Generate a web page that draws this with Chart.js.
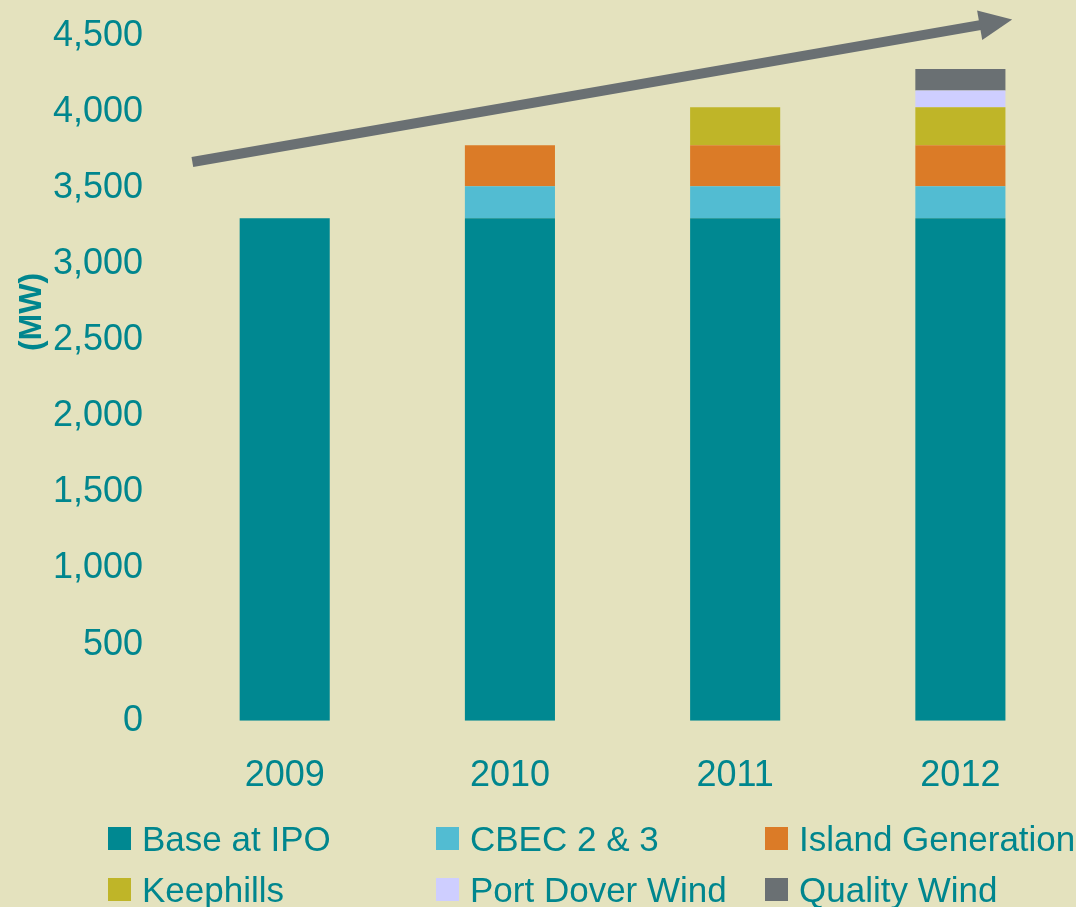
<!DOCTYPE html>
<html lang="en">
<head>
    <meta charset="UTF-8">
    <title>Capacity (MW) 2009-2012</title>
    <script src="https://cdn.jsdelivr.net/npm/chart.js"></script>
    <style>
        html, body {
            margin: 0;
            padding: 0;
            background: #E4E2BE;
            width: 1076px;
            height: 907px;
            overflow: hidden;
            font-family: "Liberation Sans", Arial, sans-serif;
        }
        #wrap {
            position: absolute;
            left: 0;
            top: -15px;
            width: 1076px;
            height: 850px;
        }
        #legend {
            position: absolute;
            left: 108px;
            top: 822px;
            display: grid;
            grid-template-columns: 328px 329px 300px;
            grid-auto-rows: 51px;
            color: #00868E;
            font-size: 35px;
        }
        #legend .item {
            display: flex;
            align-items: center;
            white-space: nowrap;
            height: 33px;
        }
        #legend .box {
            width: 23px;
            height: 23px;
            margin-right: 11px;
            flex: none;
        }
    </style>
</head>
<body>
    <div id="wrap"><canvas id="mwChart"></canvas></div>
    <div id="legend"></div>
    <script>
        const years = ['2009', '2010', '2011', '2012'];
        const baseAtIpo = [3300, 3300, 3300, 3300];
        const cbec = [null, 210, 210, 210];
        const islandGen = [null, 270, 270, 270];
        const keephills = [null, null, 250, 250];
        const portDover = [null, null, null, 110];
        const qualityWind = [null, null, null, 140];
        const yTicks = [0, 500, 1000, 1500, 2000, 2500, 3000, 3500, 4000, 4500];

        // trend arrow, in chart units (category index, MW)
        const arrowFrom = { x: -0.41, y: 3670 };
        const arrowTo = { x: 3.23, y: 4605 };

        const teal = '#00868E';
        const bg = '#E4E2BE';

        const bgPlugin = {
            id: 'bg',
            beforeDraw(chart) {
                const c = chart.ctx;
                c.save();
                c.fillStyle = bg;
                c.fillRect(0, 0, chart.width, chart.height);
                c.restore();
            }
        };

        const arrowPlugin = {
            id: 'trendArrow',
            afterDatasetsDraw(chart) {
                const xs = chart.scales.x, ys = chart.scales.y;
                const x1 = xs.getPixelForValue(arrowFrom.x), y1 = ys.getPixelForValue(arrowFrom.y);
                const x2 = xs.getPixelForValue(arrowTo.x), y2 = ys.getPixelForValue(arrowTo.y);
                const ang = Math.atan2(y2 - y1, x2 - x1);
                const headLen = 33, headW = 15;
                const bx = x2 - headLen * Math.cos(ang), by = y2 - headLen * Math.sin(ang);
                const c = chart.ctx;
                c.save();
                c.strokeStyle = '#6A7073';
                c.fillStyle = '#6A7073';
                c.lineWidth = 10;
                c.beginPath();
                c.moveTo(x1, y1);
                c.lineTo(bx + 2 * Math.cos(ang), by + 2 * Math.sin(ang));
                c.stroke();
                c.beginPath();
                c.moveTo(x2, y2);
                c.lineTo(bx + headW * Math.sin(ang), by - headW * Math.cos(ang));
                c.lineTo(bx - headW * Math.sin(ang), by + headW * Math.cos(ang));
                c.closePath();
                c.fill();
                c.restore();
            }
        };

        const yTitlePlugin = {
            id: 'yTitle',
            afterDraw(chart) {
                const ys = chart.scales.y;
                const c = chart.ctx;
                c.save();
                c.translate(32, ys.getPixelForValue(2685));
                c.rotate(-Math.PI / 2);
                c.fillStyle = teal;
                c.font = 'bold 32px "Liberation Sans", Arial, sans-serif';
                c.textAlign = 'center';
                c.textBaseline = 'middle';
                c.fillText('(MW)', 0, 0);
                c.restore();
            }
        };

        const mk = (label, data, color) => ({
            label: label,
            data: data,
            backgroundColor: color,
            borderWidth: 0,
            barPercentage: 0.4,
            categoryPercentage: 1.0
        });

        const ctx = document.getElementById('mwChart').getContext('2d');
        const chart = new Chart(ctx, {
            type: 'bar',
            data: {
                labels: years,
                datasets: [
                    mk('Base at IPO', baseAtIpo, '#008891'),
                    mk('CBEC 2 & 3', cbec, '#52BCD2'),
                    mk('Island Generation', islandGen, '#DB7B27'),
                    mk('Keephills', keephills, '#BFB528'),
                    mk('Port Dover Wind', portDover, '#CECEFF'),
                    mk('Quality Wind', qualityWind, '#6A7073')
                ]
            },
            options: {
                responsive: true,
                maintainAspectRatio: false,
                animation: false,
                layout: { padding: { left: 24, right: 3, top: 0, bottom: 3 } },
                plugins: {
                    legend: { display: false },
                    tooltip: { enabled: false }
                },
                scales: {
                    x: {
                        stacked: true,
                        grid: { display: false, drawTicks: false },
                        border: { display: false },
                        ticks: {
                            color: teal,
                            padding: 34,
                            font: { family: '"Liberation Sans", Arial, sans-serif', size: 36 }
                        }
                    },
                    y: {
                        stacked: true,
                        min: 0,
                        max: 4500,
                        grid: { display: false, drawTicks: false },
                        border: { display: false },
                        afterBuildTicks: axis => { axis.ticks = yTicks.map(v => ({ value: v })); },
                        ticks: {
                            color: teal,
                            padding: 29,
                            font: { family: '"Liberation Sans", Arial, sans-serif', size: 36 },
                            callback: v => v.toLocaleString('en-US')
                        }
                    }
                }
            },
            plugins: [bgPlugin, arrowPlugin, yTitlePlugin]
        });

        // legend in three columns, built from the datasets
        const legendEl = document.getElementById('legend');
        chart.data.datasets.forEach(ds => {
            const item = document.createElement('div');
            item.className = 'item';
            const box = document.createElement('span');
            box.className = 'box';
            box.style.background = ds.backgroundColor;
            item.appendChild(box);
            item.appendChild(document.createTextNode(ds.label));
            legendEl.appendChild(item);
        });
    </script>
</body>
</html>
